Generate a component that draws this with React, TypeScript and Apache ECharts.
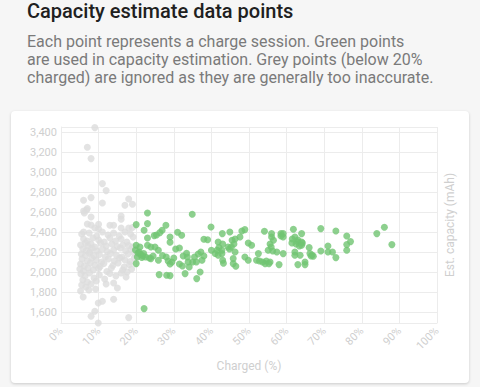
import React, { useEffect, useRef } from "react";
import * as echarts from "echarts";

const TITLE = "Capacity estimate data points";
const SUBTITLE_LINES = [
  "Each point represents a charge session. Green points",
  "are used in capacity estimation. Grey points (below 20%",
  "charged) are ignored as they are generally too inaccurate.",
];
const X_NAME = "Charged (%)";
const Y_NAME = "Est. capacity (mAh)";

// Green points: [charged %, estimated capacity mAh]
const usedPoints: number[][] = [
  [20.0, 2474], [23.0, 2590], [23.0, 2484], [22.1, 2417], [23.0, 2340], [20.0, 2267], [21.0, 2250],
  [23.0, 2267], [23.9, 2250], [25.0, 2250], [25.9, 2217], [20.5, 2190], [21.2, 2175], [21.8, 2160],
  [20.3, 2150], [21.5, 2145], [22.5, 2150], [23.5, 2140], [24.5, 2160], [19.8, 2220], [20.8, 2200],
  [22.0, 2185], [20.0, 2084], [22.1, 1634], [24.8, 2364], [25.4, 2370], [26.3, 2394], [26.9, 2417],
  [27.9, 2467], [29.0, 2350], [29.0, 2297], [26.1, 1974], [28.1, 1967], [29.0, 1964], [25.9, 2117],
  [23.9, 2134], [27.0, 2165], [28.0, 2150], [28.5, 2110], [29.5, 2100], [29.0, 2080], [30.0, 2140],
  [31.0, 2397], [32.1, 2367], [30.5, 2230], [31.5, 2240], [32.5, 2160], [33.4, 2187], [33.6, 2150],
  [33.8, 2100], [34.1, 2050], [34.9, 2577], [33.0, 1984], [36.1, 1934], [37.0, 2000], [37.2, 2200],
  [38.0, 2160], [37.5, 2117], [38.0, 2327], [39.0, 2323], [39.9, 2450], [40.0, 2217], [41.0, 2185],
  [41.8, 2167], [35.5, 2150], [36.5, 2180], [35.0, 2100], [36.0, 2100], [31.5, 2080], [32.3, 2060],
  [42.9, 2384], [44.9, 2400], [48.1, 2410], [48.9, 2424], [47.6, 2350], [54.1, 2407], [56.0, 2384],
  [56.0, 2350], [56.5, 2317], [58.5, 2384], [59.1, 2384], [58.5, 2360], [59.1, 2350], [61.8, 2427],
  [62.2, 2350], [61.5, 2330], [63.0, 2320], [41.8, 2300], [43.0, 2280], [44.4, 2250], [42.0, 2245],
  [45.5, 2317], [46.3, 2330], [46.0, 2280], [45.3, 2250], [44.8, 2230], [49.8, 2290], [50.7, 2267],
  [55.6, 2280], [55.9, 2250], [61.4, 2290], [62.5, 2280], [63.0, 2300], [63.4, 2260], [64.2, 2290],
  [41.5, 2217], [42.8, 2184], [42.8, 2217], [46.3, 2200], [55.1, 2217], [56.3, 2210], [57.4, 2200],
  [59.1, 2184], [62.2, 2200], [62.2, 2167], [43.0, 2117], [43.2, 2087], [45.8, 2134], [45.8, 2084],
  [48.9, 2150], [49.8, 2117], [52.0, 2117], [52.8, 2110], [53.6, 2100], [54.6, 2110], [55.6, 2100],
  [54.3, 2084], [55.3, 2084], [52.5, 2184], [58.0, 2074], [63.0, 2074], [64.9, 2100], [46.5, 2057],
  [64.0, 2384], [69.1, 2434], [73.1, 2410], [76.0, 2360], [77.0, 2304], [76.0, 2274], [76.0, 2217],
  [84.0, 2384], [86.0, 2447], [88.0, 2274], [64.0, 2300], [64.0, 2267], [66.0, 2244], [69.1, 2210],
  [71.0, 2260], [71.0, 2200], [72.2, 2200], [73.1, 2144], [66.2, 2184], [66.8, 2170], [67.1, 2157],
  [66.5, 2160], [64.9, 2074], [63.6, 2167],
];

// Grey points (below 20% charged)
const ignoredPoints: number[][] = [
  [9.0, 3444], [7.0, 3247], [8.0, 3134], [11.0, 2884], [12.0, 2814], [6.0, 2717], [8.0, 2744],
  [11.0, 2690], [18.0, 2730], [17.0, 2667], [19.0, 2677], [7.0, 2634], [6.0, 2610], [6.8, 2620],
  [6.2, 2590], [8.0, 2550], [16.0, 2560], [16.0, 2527], [10.0, 2477], [13.0, 2467], [14.0, 2467],
  [7.0, 2480], [8.0, 2470], [6.0, 2400], [9.0, 2440], [10.0, 2430], [16.0, 2440], [18.0, 2440],
  [19.0, 2445], [5.9, 1750], [9.9, 1690], [11.0, 1707], [14.0, 1727], [15.0, 1840], [12.0, 1880],
  [14.0, 1890], [9.0, 1607], [8.0, 1557], [9.9, 1490], [18.0, 1544],
  [5.5, 2380], [7.5, 2390], [9.5, 2360], [11.0, 2400], [12.5, 2370], [14.0, 2390], [15.5, 2360],
  [17.0, 2400], [18.5, 2380], [19.2, 2350], [6.0, 2330], [7.0, 2310], [8.5, 2340], [10.0, 2320],
  [11.5, 2300], [13.0, 2340], [14.5, 2310], [16.0, 2330], [17.5, 2300], [6.5, 2290], [5.2, 2270],
  [7.2, 2260], [8.0, 2280], [9.0, 2250], [10.5, 2290], [12.0, 2260], [13.5, 2280], [15.0, 2255],
  [16.5, 2270], [18.0, 2265], [19.0, 2250], [5.8, 2230], [6.8, 2215], [8.3, 2240], [9.6, 2210],
  [11.0, 2230], [12.3, 2205], [14.0, 2220], [15.8, 2240], [17.2, 2210], [18.6, 2225], [7.8, 2200],
  [5.4, 2180], [6.5, 2165], [7.5, 2190], [8.8, 2160], [10.2, 2175], [11.8, 2150], [13.2, 2185],
  [14.8, 2165], [16.2, 2150], [17.8, 2180], [19.4, 2190], [5.6, 2130], [7.0, 2110], [8.2, 2140],
  [9.4, 2120], [10.8, 2100], [12.6, 2130], [14.2, 2110], [15.6, 2140], [17.0, 2120], [18.4, 2105],
  [19.5, 2140], [5.2, 2080], [6.2, 2060], [7.8, 2090], [9.0, 2070], [10.4, 2055], [11.4, 2085],
  [13.8, 2065], [15.2, 2090], [16.8, 2050], [18.2, 2075], [5.0, 2030], [6.0, 2010], [7.2, 2040],
  [8.6, 2020], [10.0, 2035], [12.2, 2005], [13.4, 2040], [16.4, 2020], [17.6, 2000], [18.8, 2030],
  [5.3, 1980], [6.4, 1960], [7.6, 1990], [8.8, 1940], [10.2, 1970], [11.6, 1930], [14.6, 1960],
  [16.0, 1990], [17.3, 1950], [5.8, 1920], [7.0, 1900], [9.4, 1910], [13.0, 1985], [5.5, 1870],
  [6.6, 1850], [8.0, 1880], [9.2, 1830], [5.2, 1810], [7.4, 1820],
];

const X_MIN = 0;
const X_MAX = 100;
const X_STEP = 10;
const Y_MIN = 1490;
const Y_MAX = 3450;
const Y_STEP = 200;

const FONT = "Roboto, 'Noto Sans', sans-serif";

export default function App() {
  const ref = useRef<HTMLDivElement>(null);

  useEffect(() => {
    document.body.style.margin = "0";
    if (!ref.current) return;
    const chart = echarts.init(ref.current, undefined, { renderer: "svg" });
    const axisLabel = { color: "#cfcfcf", fontSize: 11, fontFamily: FONT };
    chart.setOption({
      animation: false,
      textStyle: { fontFamily: FONT },
      grid: { left: 61, right: 43, top: 127, bottom: 64, containLabel: false },
      xAxis: {
        type: "value",
        min: X_MIN,
        max: X_MAX,
        interval: X_STEP,
        name: X_NAME,
        nameLocation: "middle",
        nameGap: 37,
        nameTextStyle: { color: "#cfcfcf", fontSize: 12, fontFamily: FONT },
        axisLine: { show: true, lineStyle: { color: "#ececec" } },
        axisTick: { show: false },
        splitLine: { show: true, lineStyle: { color: "#ececec", width: 1 } },
        axisLabel: { ...axisLabel, rotate: 45, margin: 6, formatter: "{value}%" },
      },
      yAxis: {
        type: "value",
        min: Y_MIN,
        max: Y_MAX,
        minInterval: Y_STEP,
        maxInterval: Y_STEP,
        axisLine: { show: true, lineStyle: { color: "#ececec" } },
        axisTick: { show: false },
        splitLine: { show: true, lineStyle: { color: "#ececec", width: 1 } },
        axisLabel: {
          ...axisLabel,
          margin: 4,
          showMinLabel: false,
          showMaxLabel: false,
          formatter: (v: number) => v.toLocaleString("en-US"),
        },
      },
      graphic: [
        {
          type: "text",
          x: 450,
          y: 225,
          rotation: Math.PI / 2,
          style: {
            text: Y_NAME,
            fill: "#cfcfcf",
            fontSize: 12,
            fontFamily: FONT,
            align: "center",
            verticalAlign: "middle",
          },
        },
      ],
      series: [
        {
          type: "scatter",
          data: ignoredPoints,
          symbolSize: 7,
          itemStyle: { color: "#dcdcdc" },
        },
        {
          type: "scatter",
          data: usedPoints,
          symbolSize: 7,
          itemStyle: { color: "#70c472" },
        },
      ],
    });
    return () => chart.dispose();
  }, []);

  return (
    <div
      style={{
        position: "absolute",
        left: 0,
        top: 0,
        width: 480,
        height: 387,
        background: "#f6f6f6",
        overflow: "hidden",
        fontFamily: FONT,
      }}
    >
      <div
        style={{
          position: "absolute",
          left: 27,
          top: -1,
          fontSize: 20,
          fontWeight: 500,
          color: "#202020",
          lineHeight: "24px",
          whiteSpace: "nowrap",
        }}
      >
        {TITLE}
      </div>
      <div
        style={{
          position: "absolute",
          left: 27,
          top: 33,
          fontSize: 16,
          color: "#7a7a7a",
          lineHeight: "17.8px",
          whiteSpace: "nowrap",
        }}
      >
        {SUBTITLE_LINES.map((l, i) => (
          <div key={i}>{l}</div>
        ))}
      </div>
      <div
        style={{
          position: "absolute",
          left: 11,
          top: 111,
          width: 458,
          height: 272,
          background: "#ffffff",
          borderRadius: 4,
          boxShadow: "0 1px 3px rgba(0,0,0,0.18)",
        }}
      />
      <div
        ref={ref}
        style={{ position: "absolute", left: 0, top: 0, width: 480, height: 387 }}
      />
    </div>
  );
}
